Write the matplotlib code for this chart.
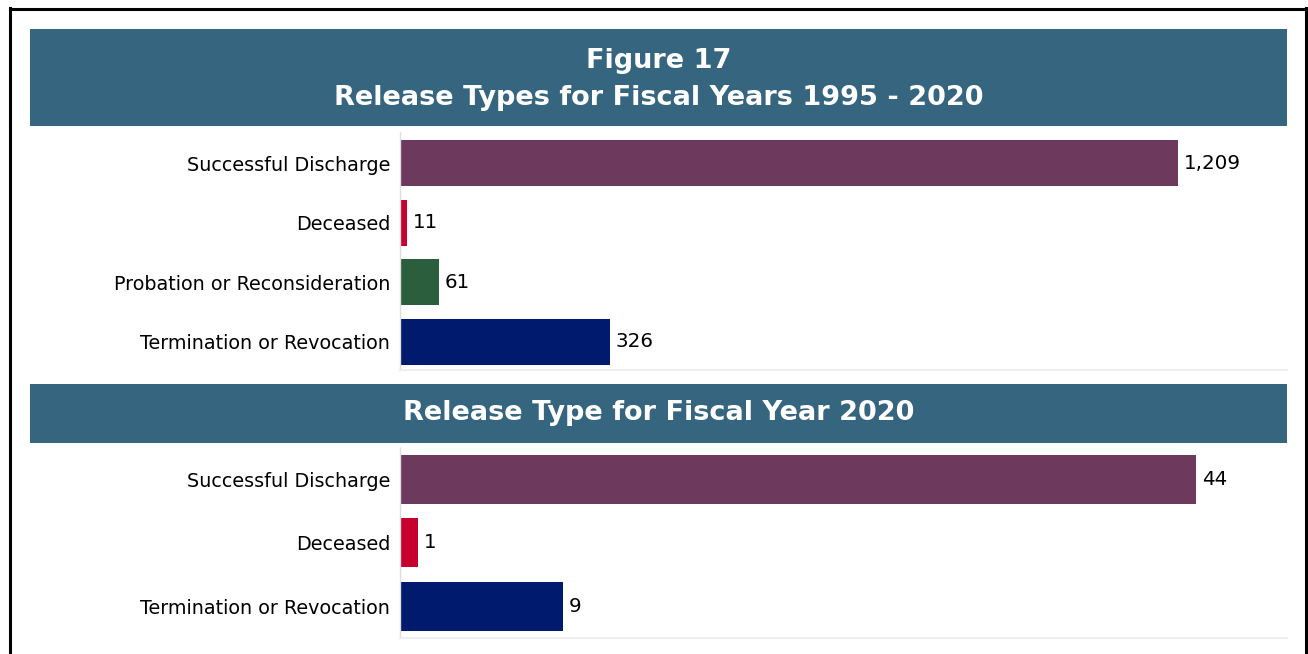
import numpy as np
import matplotlib.pyplot as plt
from matplotlib.patches import Rectangle
from matplotlib.lines import Line2D

# Data
cats_all = ["Successful Discharge", "Deceased", "Probation or Reconsideration", "Termination or Revocation"]
vals_all = [1209, 11, 61, 326]
colors_all = ["#6d3a5d", "#c8002f", "#2a5e3c", "#001a6e"]

cats_2020 = ["Successful Discharge", "Deceased", "Termination or Revocation"]
vals_2020 = [44, 1, 9]
colors_2020 = ["#6d3a5d", "#c8002f", "#001a6e"]

title_top = ["Figure 17", "Release Types for Fiscal Years 1995 - 2020"]
title_bottom = "Release Type for Fiscal Year 2020"

W, H = 1308, 654
banner_color = "#36657f"

plt.rcParams['font.family'] = ['DejaVu Sans']
fig = plt.figure(figsize=(W / 100, H / 100), dpi=100)


def px(x0, y0, x1, y1):
    # pixel box (top-left origin) -> figure fraction rect
    return [x0 / W, 1 - y1 / H, (x1 - x0) / W, (y1 - y0) / H]


# outer black frame
for xs, ys in [([10, 10], [8, 660]), ([10, 1306], [8.5, 8.5]), ([1306, 1306], [8, 660])]:
    fig.add_artist(Line2D([x / W for x in xs], [1 - y / H for y in ys], color="black", lw=2.2))

# banners
for y0, y1 in [(29, 126), (384, 443)]:
    r = px(30, y0, 1287, y1)
    fig.add_artist(Rectangle((r[0], r[1]), r[2], r[3], facecolor=banner_color, edgecolor="none",
                             transform=fig.transFigure))

xc = 659 / W
fig.text(xc, 1 - 61 / H, title_top[0], ha="center", va="center", color="white", fontsize=19.5, fontweight="bold")
fig.text(xc, 1 - 98 / H, title_top[1], ha="center", va="center", color="white", fontsize=19.5, fontweight="bold")
fig.text(xc, 1 - 413 / H, title_bottom, ha="center", va="center", color="white", fontsize=19.5, fontweight="bold")


def panel(rect, cats, vals, colors, xmax, ylim):
    ax = fig.add_axes(rect)
    y = np.arange(len(cats))
    ax.barh(y, vals, height=0.77, color=colors)
    ax.set_xlim(0, xmax)
    ax.set_ylim(*ylim)
    ax.set_yticks(y)
    ax.set_yticklabels(cats, fontsize=13.8)
    ax.set_xticks([])
    ax.tick_params(axis="y", length=0, pad=7)
    for s in ["top", "right"]:
        ax.spines[s].set_visible(False)
    ax.spines["left"].set_color("#dddddd")
    ax.spines["left"].set_linestyle((0, (1, 1)))
    ax.spines["left"].set_linewidth(1)
    ax.spines["bottom"].set_color("#eeeeee")
    ax.spines["bottom"].set_linewidth(1.5)
    for yi, v in zip(y, vals):
        ax.text(v + xmax * 0.0065, yi, f"{v:,}", va="center", ha="left", fontsize=14.3)
    return ax


panel(px(400, 132, 1287, 370), cats_all, vals_all, colors_all, 1378, (3.47, -0.52))
panel(px(400, 447, 1287, 638), cats_2020, vals_2020, colors_2020, 49, (2.5, -0.51))

fig.savefig("out.png", dpi=100, facecolor="white")
